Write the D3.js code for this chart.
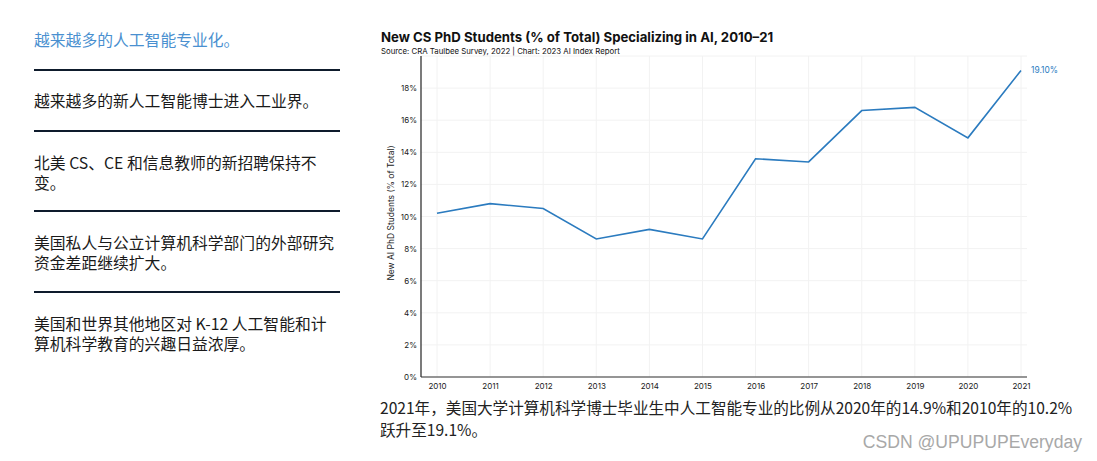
<!DOCTYPE html>
<html><head><meta charset="utf-8">
<script src="https://cdn.jsdelivr.net/npm/d3@7"></script>
<style>
body{margin:0;background:#fff;}
svg{display:block;}
</style></head>
<body>
<svg id="c" width="1097" height="461"></svg>
<script>
const years = [2010,2011,2012,2013,2014,2015,2016,2017,2018,2019,2020,2021];
const values = [10.2,10.8,10.5,8.6,9.2,8.6,13.6,13.4,16.6,16.8,14.9,19.1];
const yTicks = [0,2,4,6,8,10,12,14,16,18];
const title = "New CS PhD Students (% of Total) Specializing in AI, 2010–21";
const subtitle = "Source: CRA Taulbee Survey, 2022 | Chart: 2023 AI Index Report";
const yLabel = "New AI PhD Students (% of Total)";
const sideItems = [
  ["越来越多的人工智能专业化。"],
  ["越来越多的新人工智能博士进入工业界。"],
  ["北美 CS、CE 和信息教师的新招聘保持不","变。"],
  ["美国私人与公立计算机科学部门的外部研究","资金差距继续扩大。"],
  ["美国和世界其他地区对 K-12 人工智能和计","算机科学教育的兴趣日益浓厚。"]
];
const caption = ["2021年，美国大学计算机科学博士毕业生中人工智能专业的比例从2020年的14.9%和2010年的10.2%","跃升至19.1%。"];
const watermark = "CSDN @UPUPUPEveryday";

const svg = d3.select("#c");
const cjk = "'Noto Sans CJK SC','Noto Sans',sans-serif";
const latin = "Inter,'Liberation Sans',sans-serif";

// side panel
const sideY = [46, 107, 169, 249, 330];
const sepY = [70, 131, 211, 292];
sideItems.forEach((lines,i)=>{
  const t = svg.append("text").attr("x",34).attr("y",sideY[i])
    .attr("font-family",cjk).attr("font-size",15.8)
    .attr("fill", i===0 ? "#4a90d0" : "#1a1a1a");
  lines.forEach((l,j)=>t.append("tspan").attr("x",34).attr("dy", j===0?0:20).text(l));
});
sepY.forEach(yy=>svg.append("line").attr("x1",34).attr("x2",340).attr("y1",yy).attr("y2",yy)
  .attr("stroke","#0e1b2c").attr("stroke-width",2.2));

// chart
const pL=421, pR=1027, pT=56, pB=377;
const x = d3.scalePoint().domain(years).range([437,1021]);
const y = d3.scaleLinear().domain([0,20]).range([pB, pT]);

svg.append("text").attr("x",381).attr("y",42).attr("font-family",latin)
  .attr("font-weight",700).attr("font-size",13.2).attr("fill","#111").text(title);
svg.append("text").attr("x",381).attr("y",54).attr("font-family",latin)
  .attr("font-size",7.8).attr("fill","#111").text(subtitle);

const g = svg.append("g");
g.selectAll(".hg").data(yTicks.concat([20])).join("line")
  .attr("x1",pL).attr("x2",pR).attr("y1",d=>y(d)).attr("y2",d=>y(d))
  .attr("stroke","#f2f2f2").attr("stroke-width",1);
g.selectAll(".vg").data(years).join("line")
  .attr("x1",d=>x(d)).attr("x2",d=>x(d)).attr("y1",pT).attr("y2",pB)
  .attr("stroke","#f2f2f2").attr("stroke-width",1);

const yAxis = d3.axisLeft(y).tickValues(yTicks).tickFormat(d=>d+"%").tickSize(0).tickPadding(4);
const ya = svg.append("g").attr("transform",`translate(${pL},0)`).call(yAxis);
ya.select(".domain").remove();
ya.selectAll("text").attr("font-family",latin).attr("font-size",8).attr("fill","#1a1a1a");
svg.append("line").attr("x1",pL).attr("x2",pL).attr("y1",pT).attr("y2",pB)
  .attr("stroke","#222").attr("stroke-width",1.2);

const xAxis = d3.axisBottom(x).tickSize(0).tickPadding(6).tickFormat(d=>d);
const xa = svg.append("g").attr("transform",`translate(0,${pB})`).call(xAxis);
xa.select(".domain").remove();
xa.selectAll("text").attr("font-family",latin).attr("font-size",8).attr("fill","#1a1a1a");
svg.append("line").attr("x1",pL).attr("x2",pR).attr("y1",pB).attr("y2",pB)
  .attr("stroke","#333").attr("stroke-width",1.2);

svg.append("text").attr("transform",`translate(394,213) rotate(-90)`)
  .attr("text-anchor","middle").attr("font-family",latin).attr("font-size",8.5).attr("fill","#1a1a1a").text(yLabel);

const line = d3.line().x((d,i)=>x(years[i])).y(d=>y(d));
svg.append("path").datum(values).attr("d",line).attr("fill","none")
  .attr("stroke","#2b7bbf").attr("stroke-width",1.6);
svg.append("text").attr("x",x(years[years.length-1])+10).attr("y",y(values[values.length-1])+3)
  .attr("font-family",latin).attr("font-size",8.4).attr("fill","#2b7bbf")
  .text(values[values.length-1].toFixed(2)+"%");

const ct = svg.append("text").attr("x",380).attr("y",414).attr("font-family",cjk)
  .attr("font-size",15.6).attr("fill","#222");
caption.forEach((l,j)=>ct.append("tspan").attr("x",380).attr("dy",j===0?0:22).text(l));

svg.append("text").attr("x",1082).attr("y",448).attr("text-anchor","end")
  .attr("font-family","'Liberation Sans',Arial,sans-serif").attr("font-size",17.6).attr("fill","#a8a8a8").text(watermark);
</script>
</body></html>
